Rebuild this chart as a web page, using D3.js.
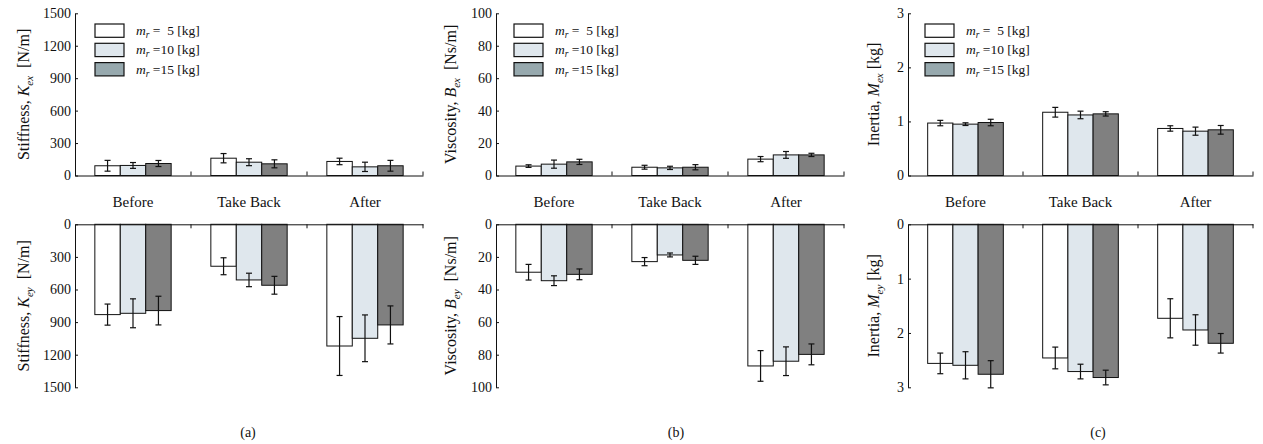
<!DOCTYPE html>
<html>
<head>
<meta charset="utf-8">
<script src="https://cdn.jsdelivr.net/npm/d3@7"></script>
<style>
  body { margin: 0; background: #fff; }
  svg { display: block; font-family: "Liberation Serif", "Times New Roman", serif; }
  text { white-space: pre; }
</style>
</head>
<body>
<div id="chart"></div>
<script>
// Declare data
const categories = ["Before", "Take Back", "After"];
const massLabels = [" =  5 [kg]", " =10 [kg]", " =15 [kg]"];

// mean values [category][mass]
const kexMean = [[90, 93, 111], [160, 123, 108], [130, 80, 90]];
const kexErr  = [[50, 27, 28], [43, 32, 37], [30, 43, 50]];
const keyMean = [[831, 819, 794], [386, 512, 561], [1120, 1049, 926]];
const keyErr  = [[97, 133, 132], [78, 62, 82], [271, 215, 175]];

const bexMean = [[5.8, 7.0, 8.4], [5.1, 4.7, 5.1], [10.1, 12.7, 12.7]];
const bexErr  = [[0.8, 2.5, 1.6], [1.2, 1.0, 1.6], [1.6, 2.1, 1.0]];
const beyMean = [[29.4, 34.6, 30.7], [22.9, 18.8, 22.1], [86.9, 84.0, 79.8]];
const beyErr  = [[4.8, 3.0, 3.3], [2.5, 1.2, 2.5], [9.4, 8.8, 6.4]];

const mexMean = [[0.97, 0.95, 0.98], [1.17, 1.12, 1.14], [0.87, 0.82, 0.845]];
const mexErr  = [[0.05, 0.025, 0.06], [0.09, 0.07, 0.04], [0.05, 0.075, 0.08]];
const meyMean = [[2.56, 2.595, 2.76], [2.46, 2.71, 2.82], [1.73, 1.945, 2.19]];
const meyErr  = [[0.19, 0.25, 0.25], [0.2, 0.135, 0.135], [0.36, 0.28, 0.18]];

const ticksK = [0, 300, 600, 900, 1200, 1500];
const ticksB = [0, 20, 40, 60, 80, 100];
const ticksM = [0, 1, 2, 3];

// colours
const barFill = ["#ffffff", "#dfe7ed", "#808080"];
const legendFill = ["#ffffff", "#dfe7ed", "#97a9ae"];

// layout
const width = 1263;
const height = 444;
const topY0 = 175.5, topY1 = 13.3;
const botY0 = 224.3, botY1 = 387.3;

const panels = [
  {left: 75, right: 423, ticks: ticksK, top: [kexMean, kexErr], bot: [keyMean, keyErr],
   name: "Stiffness, ", sym: "K", subTop: "ex", subBot: "ey", unit: "  [N/m]",
   labelOff: -52, legendOff: 20, tag: "(a)", tagOff: 173},
  {left: 496, right: 844, ticks: ticksB, top: [bexMean, bexErr], bot: [beyMean, beyErr],
   name: "Viscosity, ", sym: "B", subTop: "ex", subBot: "ey", unit: "  [Ns/m]",
   labelOff: -46, legendOff: 18, tag: "(b)", tagOff: 180},
  {left: 908, right: 1253, ticks: ticksM, top: [mexMean, mexErr], bot: [meyMean, meyErr],
   name: "Inertia, ", sym: "M", subTop: "ex", subBot: "ey", unit: " [kg]",
   labelOff: -35, legendOff: 17, tag: "(c)", tagOff: 190}
];

const svg = d3.select("#chart")
  .append("svg")
    .attr("width", width)
    .attr("height", height)
    .attr("viewBox", [0, 0, width, height]);

function yLabel(g, p, sub, cx, cy) {
  const t = g.append("text")
    .attr("transform", `translate(${cx + 5.5},${cy}) rotate(-90)`)
    .attr("text-anchor", "middle")
    .attr("font-size", 16)
    .attr("fill", "#111");
  t.append("tspan").text(p.name);
  t.append("tspan").attr("font-style", "italic").text(p.sym);
  t.append("tspan").attr("font-style", "italic").attr("font-size", 11).attr("dy", 4).text(sub);
  t.append("tspan").attr("dy", -4).text(p.unit);
}

function drawBars(g, p, x, xs, y, mean, err, down) {
  const rows = [];
  categories.forEach((c, i) => mean[i].forEach((v, j) => rows.push({c, j, v, e: err[i][j]})));

  g.append("g")
    .selectAll("rect")
    .data(rows)
    .join("rect")
      .attr("x", d => x(d.c) + xs(d.j))
      .attr("y", d => down ? y(0) : y(d.v))
      .attr("width", xs.bandwidth())
      .attr("height", d => Math.abs(y(d.v) - y(0)))
      .attr("fill", d => barFill[d.j])
      .attr("stroke", "#111")
      .attr("stroke-width", 1);

  const eb = g.append("g")
    .attr("stroke", "#111")
    .attr("stroke-width", 1.2)
    .selectAll("g")
    .data(rows)
    .join("g")
      .attr("transform", d => `translate(${x(d.c) + xs(d.j) + xs.bandwidth() / 2},0)`);
  eb.append("line")
    .attr("y1", d => y(d.v - d.e)).attr("y2", d => y(d.v + d.e));
  eb.append("line")
    .attr("x1", -3).attr("x2", 3)
    .attr("y1", d => y(d.v - d.e)).attr("y2", d => y(d.v - d.e));
  eb.append("line")
    .attr("x1", -3).attr("x2", 3)
    .attr("y1", d => y(d.v + d.e)).attr("y2", d => y(d.v + d.e));
}

panels.forEach(p => {
  const g = svg.append("g");
  const max = p.ticks[p.ticks.length - 1];

  const x = d3.scaleBand()
    .domain(categories)
    .range([p.left, p.right])
    .padding(0);

  const xs = d3.scaleBand()
    .domain([0, 1, 2])
    .range([0, x.bandwidth()])
    .paddingInner(0)
    .paddingOuter(0.78);

  const yTop = d3.scaleLinear().domain([0, max]).range([topY0, topY1]);
  const yBot = d3.scaleLinear().domain([0, max]).range([botY0, botY1]);

  drawBars(g, p, x, xs, yTop, p.top[0], p.top[1], false);
  drawBars(g, p, x, xs, yBot, p.bot[0], p.bot[1], true);

  // x axes with category labels between the two halves
  g.append("g")
    .attr("transform", `translate(0,${topY0})`)
    .call(d3.axisBottom(x).tickSize(0).tickPadding(21).tickSizeOuter(0))
    .attr("font-family", null)
    .attr("font-size", 15)
    .call(a => a.selectAll("text").attr("fill", "#111"))
    .call(a => a.select(".domain").attr("stroke", "#111"))
    .call(a => a.selectAll(".sep")
      .data(categories)
      .join("line")
        .attr("class", "sep")
        .attr("stroke", "#111")
        .attr("x1", d => x(d) + x.bandwidth()).attr("x2", d => x(d) + x.bandwidth())
        .attr("y1", 0).attr("y2", -4));

  g.append("g")
    .attr("transform", `translate(0,${botY0})`)
    .call(d3.axisTop(x).tickSize(0).tickFormat("").tickSizeOuter(0))
    .call(a => a.select(".domain").attr("stroke", "#111"))
    .call(a => a.selectAll(".sep")
      .data(categories)
      .join("line")
        .attr("class", "sep")
        .attr("stroke", "#111")
        .attr("x1", d => x(d) + x.bandwidth()).attr("x2", d => x(d) + x.bandwidth())
        .attr("y1", 0).attr("y2", 4));

  // y axes, ticks pointing inward
  [yTop, yBot].forEach(y => {
    g.append("g")
      .attr("transform", `translate(${p.left},0)`)
      .call(d3.axisLeft(y).tickValues(p.ticks).tickFormat(d3.format("d")).tickSize(-3).tickPadding(4).tickSizeOuter(0))
      .attr("font-family", null)
      .attr("font-size", 14)
      .call(a => a.selectAll("text").attr("fill", "#111"))
      .call(a => a.selectAll("line, .domain").attr("stroke", "#111"));
  });

  yLabel(g, p, p.subTop, p.left + p.labelOff, (topY0 + topY1) / 2);
  yLabel(g, p, p.subBot, p.left + p.labelOff, (botY0 + botY1) / 2);

  // legend
  const lg = g.append("g").attr("transform", `translate(${p.left + p.legendOff},24)`);
  massLabels.forEach((m, j) => {
    lg.append("rect")
      .attr("x", 0).attr("y", j * 19.3)
      .attr("width", 29).attr("height", 13.3)
      .attr("fill", legendFill[j])
      .attr("stroke", "#111")
      .attr("stroke-width", 1.2);
    const t = lg.append("text")
      .attr("x", 41).attr("y", j * 19.3 + 11)
      .attr("font-size", 13.5)
      .attr("fill", "#111");
    t.append("tspan").attr("font-style", "italic").text("m");
    t.append("tspan").attr("font-style", "italic").attr("font-size", 9.5).attr("dy", 3).text("r");
    t.append("tspan").attr("dy", -3).text(m);
  });

  g.append("text")
    .attr("x", p.left + p.tagOff)
    .attr("y", 437)
    .attr("text-anchor", "middle")
    .attr("font-size", 14)
    .attr("fill", "#111")
    .text(p.tag);
});
</script>
</body>
</html>
